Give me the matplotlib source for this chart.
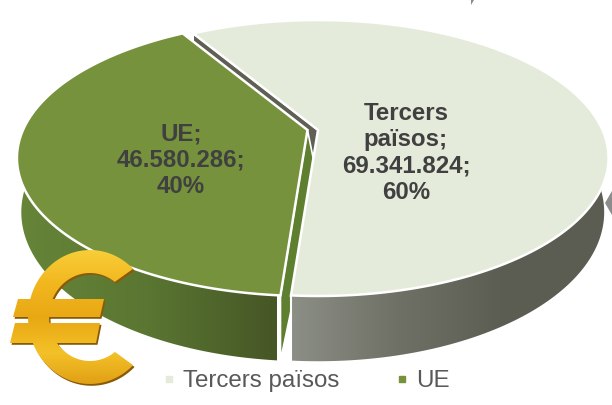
import numpy as np
import matplotlib
matplotlib.use('Agg')
import matplotlib.pyplot as plt
from matplotlib.colors import LinearSegmentedColormap
from matplotlib.lines import Line2D
from matplotlib.patches import PathPatch, Polygon
from matplotlib.path import Path
from matplotlib.transforms import Affine2D

categories = ['Tercers països', 'UE']
values = [69341824, 46580286]
label_names = ['Tercers\npaïsos', 'UE']
percents = ['60%', '40%']
top_colors = ['#E5EBDB', '#76923C']

plt.rcParams['font.family'] = ['Liberation Sans', 'DejaVu Sans']

# pie geometry in image pixels, a circle seen in perspective
start_angle = 121.0
persp = 0.203
rx, ry = 284.5, 132.3
depth = 52.0
taper = 0.985
centers = [(318.0, 130.0), (307.5, 130.0)]


def project(center, angles_deg):
    t = np.radians(angles_deg)
    X, Y = np.cos(t), np.sin(t)
    w = 1 + persp * Y
    return center[0] + rx * X / w, center[1] - ry * Y / w, depth / w


def gradient_fill(ax, patch, stops, extent, zorder, horizontal=True):
    cmap = LinearSegmentedColormap.from_list('g', stops)
    grad = np.linspace(0, 1, 256)
    grad = grad.reshape(1, -1) if horizontal else grad.reshape(-1, 1)
    ax.add_patch(patch)
    im = ax.imshow(grad, cmap=cmap, extent=extent, aspect='auto', zorder=zorder)
    im.set_clip_path(patch)


def ccw(points):
    # same winding for every part, so overlaps stay filled in the compound path
    p = np.asarray(points, dtype=float)
    area = np.sum(p[:, 0] * np.roll(p[:, 1], -1) - np.roll(p[:, 0], -1) * p[:, 1])
    return p if area > 0 else p[::-1]


def wall_outline(center, x, y, d):
    lower_x = center[0] + (x - center[0]) * taper
    return np.r_[np.c_[x, y], np.c_[lower_x, y + d][::-1]]


fig = plt.figure(figsize=(6.12, 4.05), dpi=100)
ax = fig.add_axes([0, 0, 1, 1])

fractions = np.array(values) / sum(values)
end_angle = start_angle - fractions[0] * 360
light_angles = np.linspace(start_angle, end_angle, 200)
green_angles = np.linspace(start_angle, start_angle + fractions[1] * 360, 200)

lx, ly, ld = project(centers[0], light_angles)
gx, gy, gd = project(centers[1], green_angles)
lc, gc = centers

# cut face of the light slice, seen between the two slices
face = [(lc[0], lc[1]), (lx[0], ly[0]), (lx[0], ly[0] + ld[0]), (lc[0], lc[1] + depth)]
ax.add_patch(Polygon(face, closed=True, fc='#5F5F55', ec='white', lw=1.2, zorder=1))

# green slice wall and cut face
gradient_fill(ax, Polygon(wall_outline(gc, gx, gy, gd), closed=True, fc='none', ec='none', zorder=2),
              ['#668538', '#5A7632', '#465626'], (18, 277, 400, 100), 2)
ax.plot(np.r_[gx[-1], gx[-1]], np.r_[gy[-1], gy[-1] + gd[-1]], color='white', lw=1.5, zorder=3)
side = [(gc[0], gc[1]), (gx[-1], gy[-1]), (gx[-1], gy[-1] + gd[-1]), (lc[0], lc[1] + depth)]
ax.add_patch(Polygon(side, closed=True, fc='#5F7F30', ec='white', lw=1.2, zorder=3))
ax.add_patch(Polygon(np.r_[[gc], np.c_[gx, gy]], closed=True, fc=top_colors[1],
                     ec='white', lw=1.8, joinstyle='miter', zorder=4))

# light slice wall and top
gradient_fill(ax, Polygon(wall_outline(lc, lx, ly, ld), closed=True, fc='none', ec='none', zorder=5),
              ['#8D9086', '#6F7167', '#5C5D52', '#5C5D52'], (288, 612, 400, 100), 5)
ax.plot(np.r_[lx[-1], lx[-1]], np.r_[ly[-1], ly[-1] + ld[-1]], color='white', lw=1.5, zorder=6)
ax.add_patch(Polygon(np.r_[[lc], np.c_[lx, ly]], closed=True, fc=top_colors[0],
                     ec='white', lw=1.8, joinstyle='miter', zorder=7))

# data labels
label_pos = [(406, 153), (181, 160)]
for name, val, pct, pos in zip(label_names, values, percents, label_pos):
    txt = '%s;\n%s;\n%s' % (name, format(val, ',').replace(',', '.'), pct)
    ax.text(pos[0], pos[1], txt, ha='center', va='center', fontsize=17.3,
            fontweight='bold', color='#404040', linespacing=1.18, zorder=8)

# legend
handles = [Line2D([], [], ls='none', marker='s', ms=4.5, color=c) for c in top_colors]
ax.legend(handles, categories, loc='center', bbox_to_anchor=(306 / 612, 1 - 381 / 405), ncol=2,
          frameon=False, fontsize=17.4, labelcolor='#595959', handlelength=0.6, handletextpad=0.28,
          columnspacing=2.3, borderpad=0, borderaxespad=0)

# euro mark: open ring and two bars
ring_t = np.radians(np.linspace(46, 314, 80))
inner_t = ring_t[::-1] * 0.95 + 0.16
ring = np.r_[np.c_[90 + 62 * np.cos(ring_t), 317 - 67 * np.sin(ring_t)],
             np.c_[90 + 41 * np.cos(inner_t), 317 - 44 * np.sin(inner_t)]]
bar_top = [(18, 299), (104, 299), (100, 317), (13, 317)]
bar_low = [(15, 323), (100, 323), (96, 343), (10, 343)]
parts = [Path(np.r_[ccw(p), [ccw(p)[0]]], closed=True) for p in (ring, bar_top, bar_low)]
euro = Path.make_compound_path(*parts)
ax.add_patch(PathPatch(euro, fc='#8A5A08', ec='none', zorder=9,
                       transform=Affine2D().translate(1.5, 1.8) + ax.transData))
gradient_fill(ax, PathPatch(euro, fc='none', ec='none', zorder=10),
              ['#F8CF3A', '#F2B71F', '#E8A814', '#F4C128', '#DE9C12'], (8, 135, 388, 248), 10,
              horizontal=False)

# cropped bits of other shapes at the picture edges
ax.add_patch(Polygon([(471, 0), (474, 0), (471, 5)], closed=True, fc='#8C8C8C', ec='none', zorder=1))
ax.add_patch(Polygon([(612, 191), (612, 215), (605, 203)], closed=True, fc='#8C8C8C', ec='none', zorder=8))

ax.set_xlim(0, 612)
ax.set_ylim(405, 0)
ax.axis('off')
fig.savefig('out.png', dpi=100)
